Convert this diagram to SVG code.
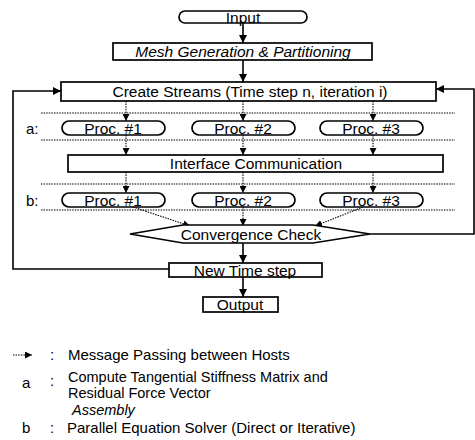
<svg xmlns="http://www.w3.org/2000/svg" width="475" height="440" viewBox="0 0 475 440">
<style>
.box{fill:#fff;stroke:#000;stroke-width:1.7}
.t{font-family:"Liberation Sans",Arial,sans-serif;font-size:15.5px;fill:#000;text-anchor:middle}
.ti{font-style:italic}
.l{font-family:"Liberation Sans",Arial,sans-serif;font-size:15px;fill:#000}
.ls{font-size:14.5px}
.solid{fill:none;stroke:#000;stroke-width:1.6}
.dot{fill:none;stroke:#000;stroke-width:1.1;stroke-dasharray:1.5 1.1}
</style>
<defs>
<marker id="ah" viewBox="0 0 10 10" refX="10" refY="5" markerWidth="9" markerHeight="8" markerUnits="userSpaceOnUse" orient="auto">
<path d="M0,0 L10,5 L0,10 Z" fill="#000"/>
</marker>
<marker id="ahs" viewBox="0 0 10 10" refX="10" refY="5" markerWidth="7" markerHeight="7" markerUnits="userSpaceOnUse" orient="auto">
<path d="M0,0 L10,5 L0,10 Z" fill="#000"/>
</marker>
</defs>

<g id="connectors">
<line class="solid" x1="243" y1="23" x2="243" y2="43" marker-end="url(#ah)"/>
<line class="solid" x1="243" y1="60" x2="243" y2="82" marker-end="url(#ah)"/>
<polyline class="solid" points="169,269 13,269 13,91 61,91" marker-end="url(#ah)"/>
<polyline class="solid" points="370,234 474,234 474,89 436,89" marker-end="url(#ah)"/>
<line class="solid" x1="243" y1="243" x2="243" y2="263" marker-end="url(#ah)"/>
<line class="solid" x1="243" y1="277" x2="243" y2="297" marker-end="url(#ah)"/>
<line class="dot" x1="41" y1="113" x2="455" y2="113"/>
<line class="dot" x1="41" y1="140" x2="455" y2="140"/>
<line class="dot" x1="41" y1="184" x2="455" y2="184"/>
<line class="dot" x1="41" y1="210" x2="455" y2="210"/>
<line class="dot" x1="126" y1="101" x2="126" y2="121" marker-end="url(#ahs)"/>
<line class="dot" x1="243" y1="101" x2="243" y2="121" marker-end="url(#ahs)"/>
<line class="dot" x1="373" y1="101" x2="373" y2="121" marker-end="url(#ahs)"/>
<line class="dot" x1="126" y1="135" x2="126" y2="155" marker-end="url(#ahs)"/>
<line class="dot" x1="243" y1="135" x2="243" y2="155" marker-end="url(#ahs)"/>
<line class="dot" x1="373" y1="135" x2="373" y2="155" marker-end="url(#ahs)"/>
<line class="dot" x1="126" y1="172" x2="126" y2="193" marker-end="url(#ahs)"/>
<line class="dot" x1="243" y1="172" x2="243" y2="193" marker-end="url(#ahs)"/>
<line class="dot" x1="373" y1="172" x2="373" y2="193" marker-end="url(#ahs)"/>
<line class="dot" x1="133" y1="207" x2="190" y2="226" marker-end="url(#ahs)"/>
<line class="dot" x1="243" y1="207" x2="243" y2="226" marker-end="url(#ahs)"/>
<line class="dot" x1="363" y1="207" x2="315" y2="226" marker-end="url(#ahs)"/>
</g>

<g id="input"><rect class="box" x="179" y="11" width="128" height="12" rx="6"/><text class="t" x="243" y="23">Input</text></g>
<g id="mesh"><rect class="box" x="113" y="43" width="259" height="17"/><text class="t ti" x="243" y="57">Mesh Generation &amp; Partitioning</text></g>
<g id="create"><rect class="box" x="61" y="82" width="375" height="19"/><text class="t" x="250" y="97">Create Streams (Time step n, iteration i)</text></g>

<g id="label-a"><text class="l" x="26" y="134">a:</text></g>
<g id="proc-a1"><rect class="box" x="62" y="121" width="103" height="14" rx="7"/><text class="t" x="113" y="134">Proc. #1</text></g>
<g id="proc-a2"><rect class="box" x="192" y="121" width="103" height="14" rx="7"/><text class="t" x="243" y="134">Proc. #2</text></g>
<g id="proc-a3"><rect class="box" x="320" y="121" width="103" height="14" rx="7"/><text class="t" x="371" y="134">Proc. #3</text></g>

<g id="interface"><rect class="box" x="68" y="155" width="375" height="17"/><text class="t" x="256" y="169">Interface Communication</text></g>

<g id="label-b"><text class="l" x="26" y="206">b:</text></g>
<g id="proc-b1"><rect class="box" x="62" y="193" width="103" height="14" rx="7"/><text class="t" x="113" y="206">Proc. #1</text></g>
<g id="proc-b2"><rect class="box" x="192" y="193" width="103" height="14" rx="7"/><text class="t" x="243" y="206">Proc. #2</text></g>
<g id="proc-b3"><rect class="box" x="320" y="193" width="103" height="14" rx="7"/><text class="t" x="371" y="206">Proc. #3</text></g>

<g id="convergence"><polygon class="box" points="130,234 183,225 313,225 370,234 313,243 183,243"/><text class="t" x="251" y="240">Convergence Check</text></g>
<g id="newtime"><rect class="box" x="169" y="263" width="153" height="14"/><text class="t" x="245" y="276">New Time step</text></g>
<g id="output"><rect class="box" x="203" y="297" width="75" height="15"/><text class="t" x="240" y="310">Output</text></g>

<g id="legend">
<line class="dot" x1="13" y1="355" x2="32" y2="355" marker-end="url(#ahs)"/>
<text class="l" x="50" y="360">:</text>
<text class="l" x="68" y="360">Message Passing between Hosts</text>
<text class="l" x="22" y="388">a</text>
<text class="l" x="50" y="386">:</text>
<text class="l ls" x="68" y="382">Compute Tangential Stiffness Matrix and</text>
<text class="l ls" x="68" y="398">Residual Force Vector</text>
<text class="l ls ti" x="72" y="415">Assembly</text>
<text class="l" x="22" y="433">b</text>
<text class="l" x="50" y="433">:</text>
<text class="l" x="67" y="433">Parallel Equation Solver (Direct or Iterative)</text>
</g>
</svg>
